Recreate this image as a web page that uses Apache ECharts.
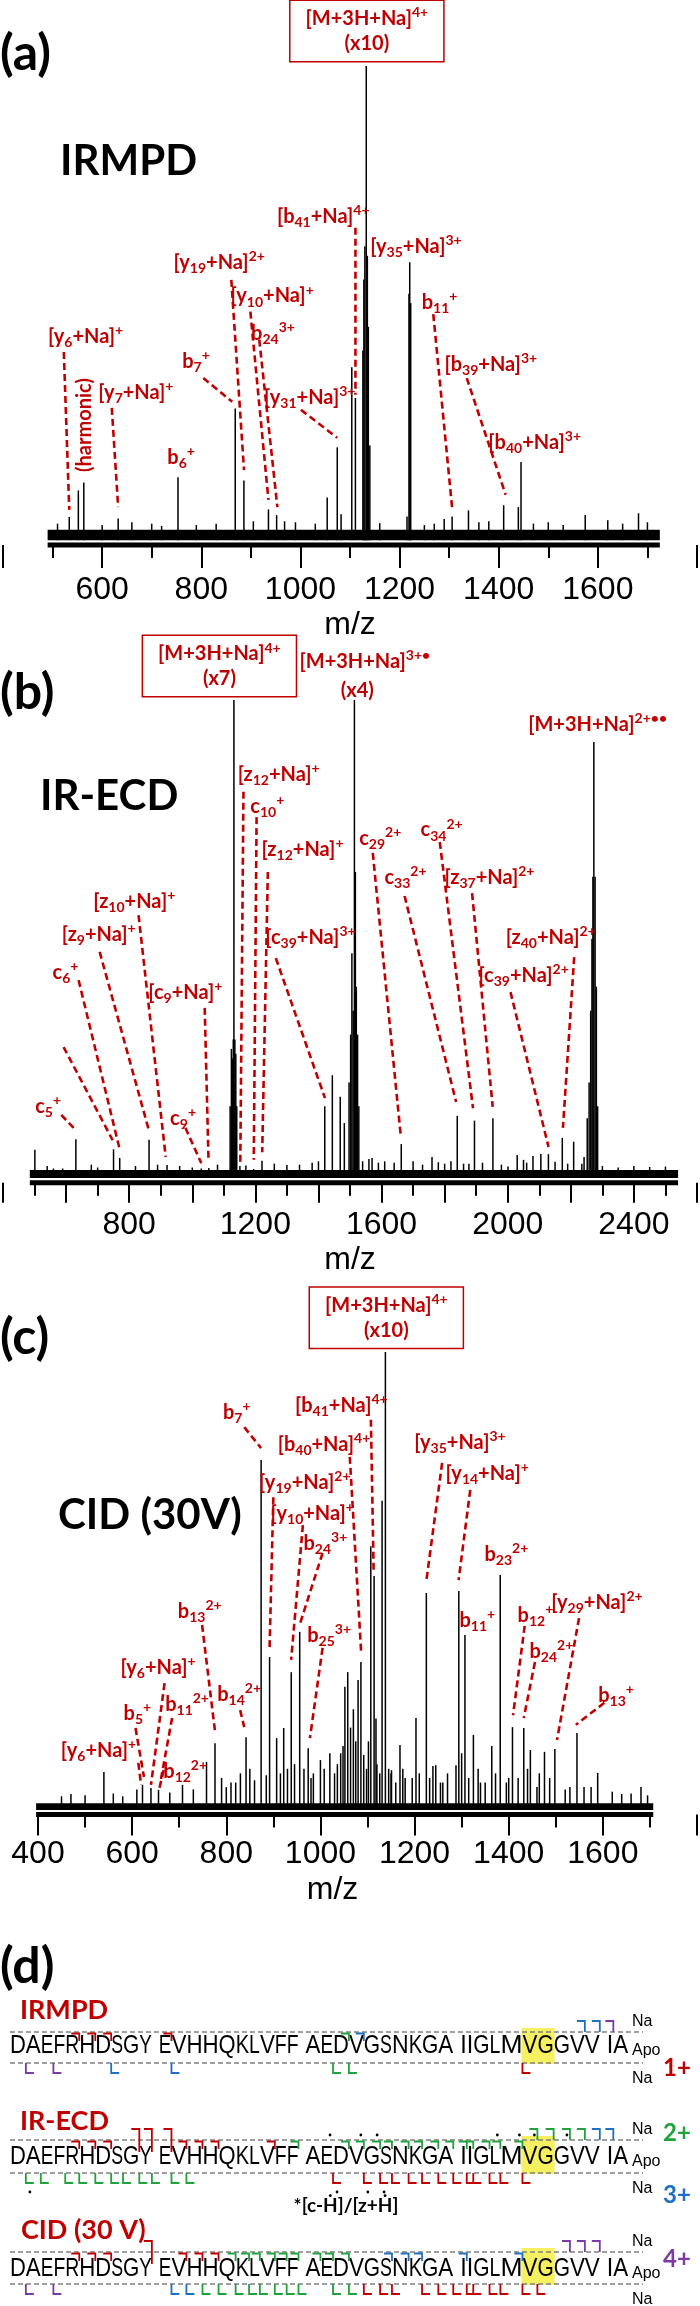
<!DOCTYPE html>
<html><head><meta charset="utf-8">
<script src="https://cdn.jsdelivr.net/npm/echarts@6/dist/echarts.min.js"></script>
<style>html,body{margin:0;padding:0;background:#fff}#c{width:700px;height:2306px}</style>
</head><body><div id="c"></div>
<script>
// ================= DATA =================
// Panel (a) IRMPD : [m/z, relative intensity %]
const A_PEAKS = [[533.7,4.9],[552,10.5],[563,12.2],[632.3,4.6],[753,13.3],[868.5,27.8],[886,12.6],[935.5,6.5],[952,5.3],[968,4],
 [1054,9],[1074.3,19.6],[1082,5.5],[1103.6,36.5],[1110.9,30],[1126,40],[1128,55],[1130,62],[1132.8,100],[1135,60],[1137,45],[1140,20],
 [1215,5],[1219,52],[1220.5,58.6],[1222.5,50],[1306,5],[1339,6.3],[1410,7.4],[1439.6,7],[1445,16.5],[1574.5,5.3],[1682,5.7]];
const A_SMALL = [[510,3.5],[600,3.2],[660,3.8],[700,3.5],[720,3],[790,3.2],[830,3.5],[905,4],[990,3.8],[1030,3.5],[1160,3.6],
 [1250,3.2],[1270,3.5],[1290,4.5],[1360,3.8],[1380,4],[1470,3.5],[1500,3.8],[1530,3.2],[1620,4.2],[1650,3.5],[1700,3.8]];
// [label m/z, label intensity, text, leader from m/z, from I, to m/z, to I]
const A_LABELS = [
 [1046,68.2,'[b{s|41}+Na]{p|4+}',1111,65.9,1111,30.7],
 [1233,61.9,'[y{s|35}+Na]{p|3+}'],
 [836,58.5,'[y{s|19}+Na]{p|2+}',860.6,54.9,886.2,14.8],
 [942.8,51.5,'[y{s|10}+Na]{p|+}',899,48.2,935.5,8.5],
 [944.6,43.5,'b{s|24}{p|3+}',917,42.3,953.5,7.0],
 [566.6,43,'[y{s|6}+Na]{p|+}',522.7,39.7,533.7,6.4],
 [789.4,37.7,'b{s|7}{p|+}',804,34.2,862.4,29.2],
 [668,31.1,'[y{s|7}+Na]{p|+}',619.5,27.9,632.3,7.0],
 [759.3,17.5,'b{s|6}{p|+}'],
 [1018.6,30.1,'[y{s|31}+Na]{p|3+}',1001,27.5,1074.2,21.6],
 [1280.7,50.2,'b{s|11}{p|+}',1268,47.7,1306.4,6.4],
 [1384,37,'[b{s|39}+Na]{p|3+}',1335.5,34.2,1414,9.6],
 [1472.5,20.6,'[b{s|40}+Na]{p|3+}']
];
const A_BOX = [[1134,107.4,'[M+3H+Na]{p|4+}\n(x10)']];
const A_VERTICAL = [[564.8,24.3,'(harmonic)']];

// Panel (b) IR-ECD
const B_PEAKS = [[501,5.9],[589,2],[631,8.1],[750.4,6],[770,4.2],[863,8],[920,2.7],[1028.7,2],[1052.5,2.1],
 [1120,15],[1124,27],[1127,25],[1130,29],[1132,100],[1135,29],[1138,26],[1141,15],[1151,2.5],[1194.5,1.9],[1221,3.6],
 [1420,15],[1444,21.5],[1469,17],[1482,11.5],[1497,20],[1502,30],[1506,47],[1510,35],[1514,100],[1517,64],[1520,40],[1524,30],[1528,15],
 [1570,4.2],[1662.5,7.1],[1840,13],[1877,3],[1894.6,12],[1953,12.5],[2000.7,2.4],[2030,4.8],[2050,3.8],[2080,4.6],[2105,5],[2129,5],
 [2173,8.4],[2209,7.6],[2235,3],[2242,4.4],[2252,12.5],[2258,20],[2263,35],[2267,50],[2270,63],[2273,91.2],[2277,63],[2281,40],[2285,15]];
const B_SMALL = [[540,2.5],[560,2],[680,2.8],[700,2.2],[820,2.5],[890,2.8],[960,2.5],[1000,2.2],[1080,2.8],[1170,2.6],[1260,3],[1300,2.7],
 [1340,2.8],[1380,3.2],[1400,3.5],[1540,3.5],[1560,4],[1590,3.2],[1610,3.5],[1640,3.2],[1700,3.5],[1730,2.8],[1760,4.4],[1780,3.3],[1800,3],
 [1820,3.5],[1860,3],[1920,3.2],[1980,2.8],[2060,3.2],[2150,3.4],[2190,3],[2300,2.5],[2350,2.2],[2400,2.5],[2450,2.3],[2500,2.4]];
const B_LABELS = [
 [1547,108,'[M+3H+Na]{p|3+•}'],
 [1523,102,'(x4)'],
 [2285,94.8,'[M+3H+Na]{p|2+••}'],
 [1273.7,84.5,'[z{s|12}+Na]{p|+}',1162.3,80.8,1152.2,2.7],
 [1238,77.7,'c{s|10}{p|+}',1203.9,75.5,1195,3.8],
 [1349.5,68.8,'[z{s|12}+Na]{p|+}',1239.6,64,1221.7,5.4],
 [1374.7,50.3,'[c{s|39}+Na]{p|3+}',1264.8,46,1420.7,16.7],
 [1596,71.1,'c{s|29}{p|2+}',1572.2,68,1661.3,8.6],
 [1790.5,72.8,'c{s|34}{p|2+}',1784.6,70.3,1890,14.6],
 [1676,62.9,'c{s|33}{p|2+}',1673,59,1836.5,15.9],
 [1942,62.9,'[z{s|37}+Na]{p|2+}',1887,59.6,1952.4,14.9],
 [2136.5,50.3,'[z{s|40}+Na]{p|2+}',2210.7,46.2,2175,10.5],
 [2050.4,42.3,'[c{s|39}+Na]{p|2+}',2008.8,38.9,2129.4,6.5],
 [816.3,57.9,'[z{s|10}+Na]{p|+}',829.7,55,915.8,4.4],
 [703.5,51,'[z{s|9}+Na]{p|+}',706.4,47.3,862.4,10],
 [598,43,'c{s|6}{p|+}',639.6,41.4,770.3,5.9],
 [592,27.4,'',592,27.4,747.7,7.9],
 [978.2,38.8,'[c{s|9}+Na]{p|+}',1039.4,35.6,1051.3,4.2],
 [543,15,'c{s|5}{p|+}',584.7,13.2,630.7,10],
 [970.8,12.4,'c{s|9}{p|+}',978.2,10.5,1028.7,3.1]
];
const B_BOX = [[1086,107.1,'[M+3H+Na]{p|4+}\n(x7)']];

// Panel (c) CID (30 V)
const C_PEAKS = [[540,8.3],[622,5.5],[656,4.4],[707,5.5],[758,10.5],[776,14.6],[842,15.9],[874,76.4],[885,7.6],[892,33.4],[907,15.7],[922,17.9],
 [938,30.1],[956,38.9],[974,13.5],[1000,10.9],[1020,12.4],[1043,12.4],[1052,26.9],[1058,30.1],[1064,18],[1070,22],[1075,15],[1080,28.4],[1086,32.3],
 [1092,12],[1098,9],[1107,57.6],[1114,51.1],[1120,10],[1126,8],[1131,67.5],[1138,100],[1145,9],[1151,8.7],[1169,14.2],[1203,20.1],[1225,47.4],
 [1239,9.6],[1245,9.8],[1288,9.8],[1294,47.8],[1300,12.4],[1307,38.2],[1325,16.4],[1364,14],[1382,51.3],[1408,18.1],[1432,17.9],[1446,13.1],
 [1476,12.7],[1498,13.3],[1545,16.8],[1589,8.1],[1681,5]];
const C_SMALL = [[450,3],[470,3.5],[500,3.2],[560,3.6],[580,3],[610,4.5],[640,4.8],[680,3.8],[730,4.5],[790,7],[800,5],[810,6],[820,6],[830,8],
 [850,9],[860,6.5],[915,8],[930,9],[945,10],[965,9],[980,7],[985,8],[1008,9],[1030,8],[1036,10],[1048,14],[1102,15],[1118,20],
 [1150,8],[1160,6],[1175,9],[1180,7],[1195,7],[1210,8],[1232,7],[1255,6],[1260,6],[1270,8],[1315,7],[1335,9],[1340,6],[1350,6],[1372,8],
 [1395,6],[1400,7],[1420,7],[1440,9],[1460,5],[1465,8],[1487,7],[1520,4.5],[1530,5],[1560,5],[1575,5],[1620,4],[1640,3.5],[1660,3.6],[1695,3.2]];
const C_LABELS = [
 [822.3,86.8,'b{s|7}{p|+}',838.2,83.6,874,79],
 [1044.4,88.4,'[b{s|41}+Na]{p|4+}',1107.2,85.2,1113,52.4],
 [1007.6,79.7,'[b{s|40}+Na]{p|4+}',1062.4,77.1,1086.5,34.5],
 [966.7,71.6,'[y{s|19}+Na]{p|2+}',900,68.3,892,35.4],
 [982.7,64.8,'[y{s|10}+Na]{p|+}',962.7,62.2,937.8,32.8],
 [1010.6,58.1,'b{s|24}{p|3+}',1004.6,56.1,955.8,40.4],
 [1018.5,38,'b{s|25}{p|3+}',1004.6,35.4,977.7,15.7],
 [1296.4,80.3,'[y{s|35}+Na]{p|3+}',1258.6,75.8,1224.7,49.8],
 [1354.2,73.4,'[y{s|14}+Na]{p|+}',1318.3,69.9,1293.6,50.2],
 [1395,55.7,'b{s|23}{p|2+}'],
 [1333.3,41.3,'b{s|11}{p|+}'],
 [1456.8,42.4,'b{s|12}{p|+}',1433.9,40.2,1409.2,20.7],
 [1490.6,34.7,'b{s|24}{p|2+}',1455.8,32.3,1431.9,20.1],
 [1587.3,45.3,'[y{s|29}+Na]{p|2+}',1549.4,41.9,1502.6,15.3],
 [1628,24.9,'b{s|13}{p|+}',1603.2,23.4,1542.6,18.6],
 [743.6,43.4,'b{s|13}{p|2+}',748.6,40.4,776.5,16.8],
 [655,31.2,'[y{s|6}+Na]{p|+}',668.9,27.7,640,5.5],
 [827.3,25.3,'b{s|14}{p|2+}',829.5,21.8,838.2,18.1],
 [716.7,23,'b{s|11}{p|2+}',684.9,20.1,661,6.6],
 [611.2,21.1,'b{s|5}{p|+}',607.2,17.9,625.1,7.2],
 [528.5,12.9,'[y{s|6}+Na]{p|+}',613.1,10.3,619,5.5],
 [712.7,8.5,'b{s|12}{p|2+}',667,8.7,657,4.4]
];
const C_BOX = [[1140,107.5,'[M+3H+Na]{p|4+}\n(x10)']];

// Panel (d) sequence coverage
const SEQUENCE = 'DAEFRHDSGYEVHHQKLVFFAEDVGSNKGAIIGLMVGGVVIA';
const HIGHLIGHT = [36, 37];
// N-terminal fragments: [row, cleaved after residue, charge, 0 apo / 1 Na / 2 both]
const NTERM = [
 [0,5,1,0],[0,6,1,0],[0,7,1,0],[0,11,1,0],[0,23,2,0],[0,24,3,0],[0,39,3,1],[0,40,3,1],[0,41,4,1],
 [1,5,1,0],[1,6,1,0],[1,7,1,0],[1,9,1,2],[1,10,1,2],[1,11,1,2],[1,12,1,0],[1,13,1,0],[1,14,1,0],[1,18,1,0],[1,20,2,0],
 [1,23,2,0],[1,24,2,0],[1,25,2,0],[1,26,2,0],[1,27,2,0],[1,28,2,0],[1,29,2,0],[1,30,2,0],
 [1,31,2,0],[1,32,2,0],[1,33,2,0],[1,34,2,0],[1,35,2,0],[1,36,2,1],[1,37,2,1],[1,38,2,1],[1,39,2,1],[1,40,3,1],[1,41,3,1],
 [2,5,1,0],[2,6,1,0],[2,7,1,0],[2,10,1,2],[2,12,1,0],[2,13,1,0],[2,14,1,0],
 [2,15,2,0],[2,16,2,0],[2,17,2,0],[2,18,2,0],[2,19,2,0],[2,20,2,0],[2,21,2,0],[2,22,2,0],[2,23,2,0],
 [2,26,3,0],[2,27,3,0],[2,28,3,0],[2,31,3,0],[2,35,3,0],[2,38,4,1],[2,39,4,1],[2,40,4,1]
];
// C-terminal fragments: [row, cleaved after residue, charge, 0 apo / 1 Na]
const CTERM = [
 [0,1,4,1],[0,3,4,1],[0,7,3,1],[0,11,3,1],[0,22,2,1],[0,23,2,1],[0,35,1,1],
 [1,1,2,1],[1,2,2,1],[1,4,2,1],[1,5,2,1],[1,6,2,1],[1,7,2,1],[1,8,2,1],[1,9,2,1],[1,10,2,1],[1,11,2,1],[1,12,2,1],
 [1,22,1,1],[1,24,1,1],[1,25,1,1],[1,26,1,1],[1,27,1,1],[1,28,1,1],[1,29,1,1],[1,30,1,1],[1,31,1,1],[1,32,1,1],[1,33,1,1],[1,34,1,1],[1,35,1,1],
 [2,1,4,1],[2,3,4,1],[2,11,3,1],[2,12,3,1],[2,13,2,1],[2,14,2,1],[2,15,2,1],[2,16,2,1],[2,17,2,1],[2,18,2,1],[2,19,2,1],[2,20,2,1],
 [2,22,2,1],[2,23,2,1],[2,24,1,1],[2,25,1,1],[2,26,1,1],[2,28,1,1],[2,29,1,1],[2,30,1,1],[2,31,1,1],[2,32,1,1],[2,33,1,1],[2,34,1,1],[2,35,1,1],[2,36,1,1]
];
// radical ([c-H]/[z+H]) marks: [row, after residue, 0 top / 1 bottom]
const RADICALS = [[1,22,0],[1,24,0],[1,25,0],[1,34,0],[1,35,0],[1,36,0],[1,38,0],[1,1,1],[1,22,1],[1,24,1],[1,25,1]];

// ================= STYLE / LAYOUT =================
const RED = '#c00000';
const CHARGE_COL = {1:'#c00000', 2:'#1fa33b', 3:'#1f70c1', 4:'#7b3aa6'};
const LF = 'Lato';
const AXF = '"Liberation Sans", Arial, sans-serif';
const ROWS = [
 {top:2032, seq:2046, bot:2063},
 {top:2140, seq:2157, bot:2173},
 {top:2252, seq:2269, bot:2284}
];
// approximate advance widths (1/1000 em) of the original narrow humanist face, used for letter layout
const ADV = {D:615,A:579,E:488,F:459,R:543,H:623,S:459,G:631,Y:487,V:579,Q:662,K:520,L:420,N:646,I:252,M:855};
const SEQ_EM = 25.8, SEQ_X0 = 10, BLOCK_GAP = 7;
const resLeft = [], resW = [];
(function(){ let x = SEQ_X0;
 for (let i=0;i<SEQUENCE.length;i++){ if(i>0 && i%10===0) x+=BLOCK_GAP; resLeft[i]=x; resW[i]=ADV[SEQUENCE[i]]*SEQ_EM/1000; x+=resW[i]; } })();
function bX(k){ return resLeft[k-1]+resW[k-1]; }
const mctx = document.createElement('canvas').getContext('2d');
mctx.font = '25px "Liberation Sans"';

function rich(size,color){
 const b = {fontFamily:LF, fontWeight:'bold', fontSize:Math.round(size*0.68), fill:color, lineHeight:12};
 return {s:Object.assign({},b,{verticalAlign:'bottom'}), p:Object.assign({},b,{verticalAlign:'top'})};
}
const LSIZE = 20;

function peakSeries(xi, data){
 return {type:'custom', xAxisIndex:xi, yAxisIndex:xi, data, silent:true,
  renderItem:(p,api)=>{ const a=api.coord([api.value(0),0]), b=api.coord([api.value(0),api.value(1)]);
   return {type:'line', shape:{x1:a[0],y1:a[1],x2:b[0],y2:b[1]}, style:{stroke:'#000', lineWidth:1.5}}; }};
}
function baseSeries(xi, range){
 return {type:'custom', xAxisIndex:xi, yAxisIndex:xi, data:[range], silent:true,
  renderItem:(p,api)=>{ const s=api.value(0), e=api.value(1), n=api.value(2);
   const a=api.coord([s,0]), b=api.coord([e,n]), c=api.coord([s,-1]), d=api.coord([e,-1]);
   return {type:'group', children:[
    {type:'rect', shape:{x:a[0],y:b[1],width:b[0]-a[0],height:a[1]-b[1]}, style:{fill:'#000'}},
    {type:'rect', shape:{x:c[0],y:c[1]-2.5,width:d[0]-c[0],height:5}, style:{fill:'#000'}}]}; }};
}
function labelSeries(xi, list){
 return {type:'custom', xAxisIndex:xi, yAxisIndex:xi, silent:true, z:5,
  data:list.map(r=>[r[0],r[1]]),
  renderItem:(p,api)=>{ const r=list[p.dataIndex]; const kids=[];
   if (r.length>3){ const f=api.coord([r[3],r[4]]), t=api.coord([r[5],r[6]]);
    kids.push({type:'line', shape:{x1:f[0],y1:f[1],x2:t[0],y2:t[1]}, style:{stroke:RED, lineWidth:2.6, lineDash:[7,4]}}); }
   if (r[2]){ const c=api.coord([r[0],r[1]]);
    kids.push({type:'text', x:c[0], y:c[1], style:{text:r[2], fill:RED, fontFamily:LF, fontWeight:'bold', fontSize:LSIZE, lineHeight:26,
      align:'center', verticalAlign:'middle', rich:rich(LSIZE,RED)}}); }
   return {type:'group', children:kids}; }};
}
function boxSeries(xi, list){
 return {type:'custom', xAxisIndex:xi, yAxisIndex:xi, silent:true, z:6,
  data:list.map(r=>[r[0],r[1]]),
  renderItem:(p,api)=>{ const r=list[p.dataIndex]; const c=api.coord([r[0],r[1]]);
   return {type:'text', x:c[0], y:c[1], style:{text:r[2], fill:RED, fontFamily:LF, fontWeight:'bold', fontSize:LSIZE, lineHeight:25,
    align:'center', verticalAlign:'middle', rich:rich(LSIZE,RED), backgroundColor:'#fff', borderColor:RED, borderWidth:1.5, padding:[5,15,5,15]}}; }};
}
function vertSeries(xi, list){
 return {type:'custom', xAxisIndex:xi, yAxisIndex:xi, silent:true, z:5, data:list.map(r=>[r[0],r[1]]),
  renderItem:(p,api)=>{ const r=list[p.dataIndex]; const c=api.coord([r[0],r[1]]);
   return {type:'text', x:c[0], y:c[1], rotation:Math.PI/2, style:{text:r[2], fill:RED, fontFamily:LF, fontWeight:'bold', fontSize:LSIZE, align:'center', verticalAlign:'middle'}}; }};
}
function mzAxis(gi, min, max, show, majorLen, margin, gap, namePad){
 return {type:'value', gridIndex:gi, min, max, interval:200,
  axisLine:{show:false, onZero:false}, splitLine:{show:false},
  axisTick:{show:true, length:majorLen, lineStyle:{color:'#000', width:2}},
  minorTick:{show:true, splitNumber:2, length:13, lineStyle:{color:'#000', width:2}},
  axisLabel:{margin, fontSize:32, fontFamily:AXF, color:'#000', formatter:v=>show(v)?String(v):''},
  name:'m/z', nameLocation:'middle', nameGap:gap,
  nameTextStyle:{fontSize:32, fontFamily:AXF, color:'#000', padding:namePad}};
}
function hidY(gi, min, max, inv){ return {type:'value', gridIndex:gi, min, max, show:false, inverse:!!inv, splitLine:{show:false}}; }

// panel (d) series
const dAxis = 3;
const frameSeries = {type:'custom', xAxisIndex:dAxis, yAxisIndex:dAxis, silent:true, z:1, data:ROWS.map((r,i)=>[i]),
 renderItem:(p,api)=>{ const r=ROWS[api.value(0)];
  const h0=resLeft[HIGHLIGHT[0]-1]-1, h1=bX(HIGHLIGHT[1])+1;
  const a=api.coord([h0,r.top-4]), b=api.coord([h1,r.bot+1]);
  const l1=api.coord([10,r.top]), l2=api.coord([643,r.top]), l3=api.coord([10,r.bot]), l4=api.coord([643,r.bot]);
  const ds={stroke:'#808080', lineWidth:1.6, lineDash:[5,3]};
  return {type:'group', children:[
   {type:'rect', shape:{x:a[0],y:a[1],width:b[0]-a[0],height:b[1]-a[1]}, style:{fill:'#f5f060'}},
   {type:'line', shape:{x1:l1[0],y1:l1[1],x2:l2[0],y2:l2[1]}, style:ds},
   {type:'line', shape:{x1:l3[0],y1:l3[1],x2:l4[0],y2:l4[1]}, style:ds}]}; }};
const letterData = [];
ROWS.forEach((r,ri)=>{ for(let i=0;i<SEQUENCE.length;i++) letterData.push([ri,i]); });
const letterSeries = {type:'custom', xAxisIndex:dAxis, yAxisIndex:dAxis, silent:true, z:3, data:letterData,
 renderItem:(p,api)=>{ const r=ROWS[api.value(0)], i=api.value(1), ch=SEQUENCE[i];
  const c=api.coord([resLeft[i]+resW[i]/2, r.seq]); const sx=resW[i]/mctx.measureText(ch).width;
  return {type:'text', x:c[0], y:c[1], scaleX:sx, style:{text:ch, fill:'#000', fontFamily:'Liberation Sans', fontSize:25, align:'center', verticalAlign:'middle'}}; }};
const ntermSeries = {type:'custom', xAxisIndex:dAxis, yAxisIndex:dAxis, silent:true, z:4, data:NTERM,
 renderItem:(p,api)=>{ const r=ROWS[api.value(0)], x=bX(api.value(1)), z=api.value(2), lv=api.value(3);
  let y0,y1; if(lv===0){y0=r.top+1.5;y1=r.top+9;} else if(lv===1){y0=r.top-11;y1=r.top;} else {y0=r.top-11;y1=r.top+12;}
  const pts=[api.coord([x-8,y0]),api.coord([x,y0]),api.coord([x,y1])];
  return {type:'polyline', shape:{points:pts}, style:{stroke:CHARGE_COL[z], lineWidth:1.8, fill:null}}; }};
const ctermSeries = {type:'custom', xAxisIndex:dAxis, yAxisIndex:dAxis, silent:true, z:4, data:CTERM,
 renderItem:(p,api)=>{ const r=ROWS[api.value(0)], x=bX(api.value(1)), z=api.value(2), lv=api.value(3);
  let y0,y1; if(lv===1){y0=r.bot;y1=r.bot+10;} else {y0=r.bot-9;y1=r.bot-1.5;}
  const pts=[api.coord([x,y0]),api.coord([x,y1]),api.coord([x+8,y1])];
  return {type:'polyline', shape:{points:pts}, style:{stroke:CHARGE_COL[z], lineWidth:1.8, fill:null}}; }};
const radSeries = {type:'custom', xAxisIndex:dAxis, yAxisIndex:dAxis, silent:true, z:4, data:RADICALS,
 renderItem:(p,api)=>{ const r=ROWS[api.value(0)], x=bX(api.value(1)), side=api.value(2);
  const c = side===0 ? api.coord([x-3, r.top-5]) : api.coord([x+4, r.bot+19]);
  return {type:'circle', shape:{cx:c[0],cy:c[1],r:1.4}, style:{fill:'#000'}}; }};

function T(x,y,text,font,fill,align){ return {type:'text', x, y, silent:true, style:{text, font, fill:fill||'#000', textAlign:align||'left', textVerticalAlign:'middle'}}; }
const graphics = [
 T(0,54,'(a)','bold 50px Lato'), T(0,693,'(b)','bold 50px Lato'), T(0,1338,'(c)','bold 50px Lato'), T(0,1967,'(d)','bold 50px Lato'),
 T(60,161,'IRMPD','bold 42px Lato'), T(40,796,'IR-ECD','bold 42px Lato'), T(58,1515,'CID (30V)','bold 42px Lato'),
 T(20,2010,'IRMPD','bold 27px Lato',RED), T(20,2121,'IR-ECD','bold 27px Lato',RED), T(21,2230,'CID (30 V)','bold 27px Lato',RED),
 T(346,2206,'*[c-Ḣ]/[z+Ḣ]','bold 19px Lato','#000','center'),
 T(663,2068,'1+','bold 24px Lato',CHARGE_COL[1]), T(663,2133,'2+','bold 24px Lato',CHARGE_COL[2]),
 T(663,2195,'3+','bold 24px Lato',CHARGE_COL[3]), T(663,2259,'4+','bold 24px Lato',CHARGE_COL[4])
];
ROWS.forEach(r=>{ graphics.push(T(632,r.top-10,'Na','16px "Liberation Sans"'), T(632,r.seq+5,'Apo','16px "Liberation Sans"'), T(632,r.bot+16,'Na','16px "Liberation Sans"')); });

const option = {
 animation:false, backgroundColor:'#fff',
 grid:[
  {left:-25.2, right:-41.3, top:66, bottom:1761},
  {left:-28.7, right:-12, top:700, bottom:1123.2},
  {left:38, right:-40.8, top:1352, bottom:491.4},
  {left:0, right:0, top:1990, bottom:0}
 ],
 xAxis:[
  mzAxis(0,400,1800,v=>v>=600&&v<=1600,23,29,64,[0,0,0,0]),
  mzAxis(1,400,2600,v=>v%400===0&&v>=800&&v<=2400,20,26,61,[0,0,0,0]),
  mzAxis(2,400,1800,v=>v<=1600,21,24,60,[0,70,0,0]),
  {type:'value', gridIndex:3, min:0, max:700, show:false, splitLine:{show:false}}
 ],
 yAxis:[hidY(0,-1,100), hidY(1,-1,100), hidY(2,-1,100), hidY(3,1990,2306,true)],
 graphic:graphics,
 series:[
  baseSeries(0,[490,1725,2.2]), peakSeries(0,A_PEAKS.concat(A_SMALL)), labelSeries(0,A_LABELS), boxSeries(0,A_BOX), vertSeries(0,A_VERTICAL),
  baseSeries(1,[485,2540,1.7]), peakSeries(1,B_PEAKS.concat(B_SMALL)), labelSeries(1,B_LABELS), boxSeries(1,B_BOX),
  baseSeries(2,[396,1707,1.5]), peakSeries(2,C_PEAKS.concat(C_SMALL)), labelSeries(2,C_LABELS), boxSeries(2,C_BOX),
  frameSeries, letterSeries, ntermSeries, ctermSeries, radSeries
 ]
};
const chart = echarts.init(document.getElementById('c'), null, {renderer:'canvas', width:700, height:2306});
chart.setOption(option);
</script></body></html>
